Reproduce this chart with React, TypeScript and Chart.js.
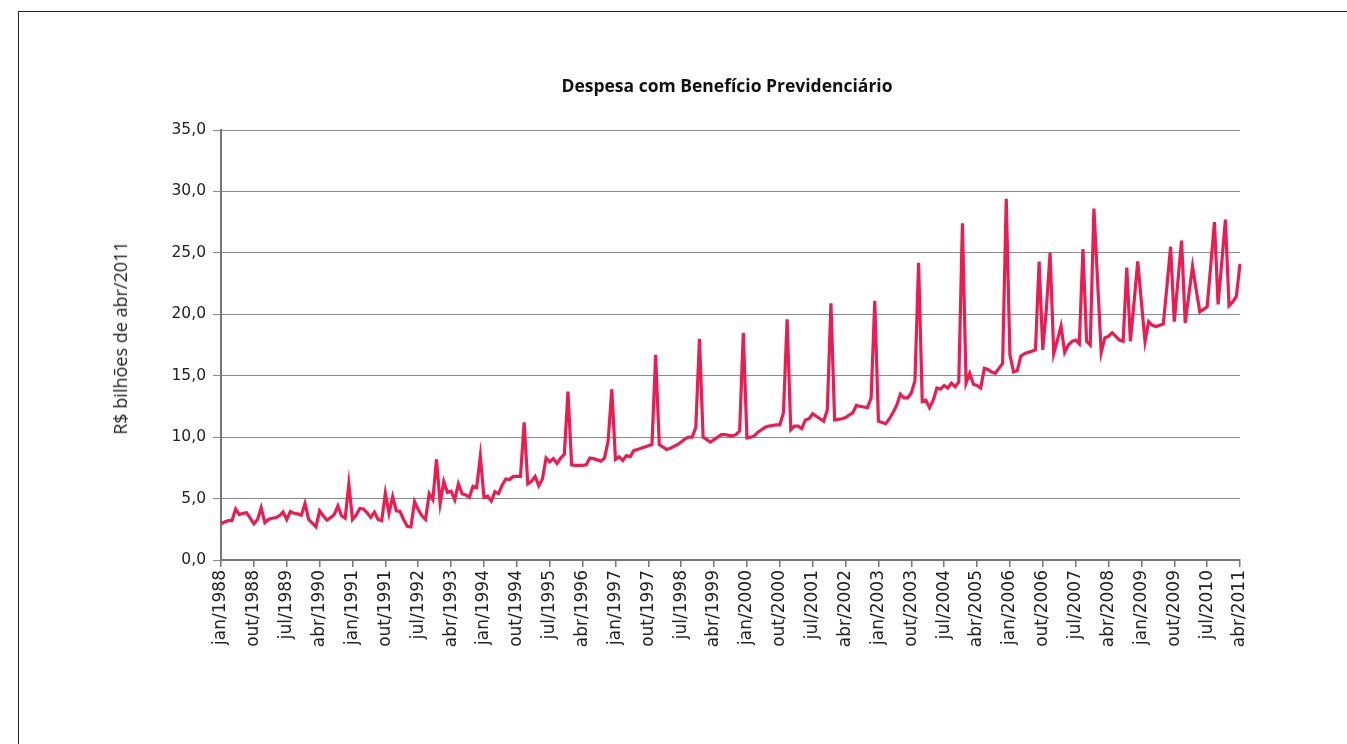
import React, { useEffect, useRef } from "react";
import { Chart, registerables } from "chart.js";

Chart.register(...registerables);

const MONTHS = ["jan", "fev", "mar", "abr", "mai", "jun", "jul", "ago", "set", "out", "nov", "dez"];
const YEARS = [1988, 1989, 1990, 1991, 1992, 1993, 1994, 1995, 1996, 1997, 1998, 1999, 2000, 2001, 2002, 2003, 2004, 2005, 2006, 2007, 2008, 2009, 2010, 2011];

// R$ bilhões de abr/2011, monthly values per year
const v1988 = [2.95, 3.1, 3.2, 3.2, 4.15, 3.7, 3.8, 3.85, 3.4, 2.95, 3.3, 4.25];
const v1989 = [3.05, 3.3, 3.4, 3.45, 3.6, 3.9, 3.3, 3.95, 3.8, 3.75, 3.65, 4.6];
const v1990 = [3.3, 3.0, 2.7, 4.0, 3.6, 3.25, 3.45, 3.7, 4.4, 3.6, 3.4, 6.2];
const v1991 = [3.3, 3.66, 4.2, 4.15, 3.85, 3.47, 3.9, 3.3, 3.2, 5.45, 3.8, 5.15];
const v1992 = [4.0, 3.95, 3.3, 2.75, 2.7, 4.75, 4.1, 3.6, 3.3, 5.4, 4.9, 8.2];
const v1993 = [4.6, 6.4, 5.5, 5.6, 4.9, 6.2, 5.4, 5.3, 5.1, 6.0, 5.9, 8.45];
const v1994 = [5.1, 5.2, 4.8, 5.55, 5.4, 6.1, 6.6, 6.55, 6.8, 6.8, 6.8, 11.2];
const v1995 = [6.2, 6.4, 6.8, 6.05, 6.6, 8.3, 8.0, 8.25, 7.85, 8.3, 8.6, 13.7];
const v1996 = [7.75, 7.7, 7.7, 7.7, 7.75, 8.3, 8.25, 8.15, 8.05, 8.3, 9.7, 13.9];
const v1997 = [8.2, 8.4, 8.1, 8.5, 8.4, 8.9, 9.0, 9.1, 9.2, 9.3, 9.4, 16.7];
const v1998 = [9.4, 9.2, 9.0, 9.1, 9.25, 9.4, 9.6, 9.85, 10.0, 10.0, 10.8, 18.0];
const v1999 = [10.0, 9.8, 9.6, 9.8, 10.0, 10.2, 10.2, 10.15, 10.1, 10.2, 10.5, 18.5];
const v2000 = [9.95, 10.0, 10.1, 10.4, 10.6, 10.8, 10.9, 10.95, 11.0, 11.0, 12.0, 19.6];
const v2001 = [10.6, 10.9, 10.9, 10.7, 11.4, 11.5, 11.9, 11.7, 11.5, 11.3, 12.2, 20.9];
const v2002 = [11.4, 11.45, 11.5, 11.6, 11.8, 12.0, 12.6, 12.5, 12.45, 12.4, 13.2, 21.1];
const v2003 = [11.3, 11.2, 11.1, 11.5, 12.0, 12.6, 13.5, 13.2, 13.2, 13.6, 14.6, 24.2];
const v2004 = [12.9, 13.0, 12.4, 13.0, 14.0, 13.9, 14.2, 14.0, 14.4, 14.1, 14.5, 27.4];
const v2005 = [14.4, 15.2, 14.3, 14.2, 14.0, 15.6, 15.5, 15.3, 15.2, 15.6, 16.0, 29.4];
const v2006 = [16.7, 15.3, 15.4, 16.6, 16.8, 16.9, 17.0, 17.1, 24.3, 17.1, 20.5, 25.0];
const v2007 = [16.8, 17.9, 19.05, 16.9, 17.5, 17.8, 17.9, 17.6, 25.3, 17.8, 17.5, 28.6];
const v2008 = [22.7, 16.9, 18.1, 18.2, 18.5, 18.2, 17.9, 17.8, 23.8, 17.8, 21.0, 24.3];
const v2009 = [21.0, 17.8, 19.4, 19.1, 19.0, 19.1, 19.2, 22.3, 25.5, 19.4, 22.7, 26.0];
const v2010 = [19.3, 21.6, 23.9, 22.0, 20.2, 20.4, 20.6, 24.0, 27.5, 20.8, 24.2, 27.7];
const v2011 = [20.7, 21.0, 21.45, 24.1];

const VALUES = [
  ...v1988, ...v1989, ...v1990, ...v1991, ...v1992, ...v1993, ...v1994, ...v1995,
  ...v1996, ...v1997, ...v1998, ...v1999, ...v2000, ...v2001, ...v2002, ...v2003,
  ...v2004, ...v2005, ...v2006, ...v2007, ...v2008, ...v2009, ...v2010, ...v2011,
];

const CATEGORIES = YEARS.flatMap((y) => MONTHS.map((m) => `${m}/${y}`)).slice(0, VALUES.length);

const TICK_LABELS = [
  "jan/1988", "out/1988", "jul/1989", "abr/1990", "jan/1991", "out/1991", "jul/1992", "abr/1993",
  "jan/1994", "out/1994", "jul/1995", "abr/1996", "jan/1997", "out/1997", "jul/1998", "abr/1999",
  "jan/2000", "out/2000", "jul/2001", "abr/2002", "jan/2003", "out/2003", "jul/2004", "abr/2005",
  "jan/2006", "out/2006", "jul/2007", "abr/2008", "jan/2009", "out/2009", "jul/2010", "abr/2011",
];

const TITLE = "Despesa com Benefício Previdenciário";
const Y_TITLE = "R$ bilhões de abr/2011";

export default function App() {
  const ref = useRef<HTMLCanvasElement | null>(null);

  useEffect(() => {
    if (!ref.current) return;
    const TICK_FONT = "'DejaVu Sans', 'Open Sans', sans-serif";
    const chart = new Chart(ref.current, {
      type: "line",
      data: {
        labels: CATEGORIES,
        datasets: [
          {
            data: VALUES,
            borderColor: "#EC1C52",
            backgroundColor: "#EC1C52",
            borderWidth: 3.2,
            pointRadius: 0,
            tension: 0,
            fill: false,
          },
        ],
      },
      options: {
        animation: false,
        responsive: false,
        maintainAspectRatio: false,
        layout: { padding: { left: 0, right: 107, top: 130, bottom: 0 } },
        plugins: {
          legend: { display: false },
          tooltip: { enabled: false },
          title: { display: false },
        },
        scales: {
          x: {
            type: "category",
            grid: {
              display: true,
              drawOnChartArea: false,
              drawTicks: true,
              tickLength: 7,
              color: "#777",
              lineWidth: 1.5,
            },
            border: { display: true, color: "#777", width: 2 },
            ticks: {
              autoSkip: false,
              minRotation: 90,
              maxRotation: 90,
              padding: 3,
              color: "#222",
              font: { family: TICK_FONT, size: 17 },
              callback: (_v: any, i: number) =>
                TICK_LABELS.includes(CATEGORIES[i]) ? CATEGORIES[i] : null,
            },
            afterFit: (s: any) => {
              s.height = 184;
            },
          },
          y: {
            min: 0,
            max: 35,
            ticks: {
              stepSize: 5,
              padding: 7,
              color: "#222",
              font: { family: TICK_FONT, size: 15.5 },
              callback: (v: any) => Number(v).toFixed(1).replace(".", ","),
            },
            grid: { color: "#8a8a8a", lineWidth: 1, tickLength: 8 },
            border: { display: true, color: "#777", width: 2 },
            title: { display: false },
            afterFit: (s: any) => {
              s.width = 221;
            },
          },
        },
      },
    });
    return () => chart.destroy();
  }, []);

  return (
    <div style={{ position: "fixed", left: 0, top: 0, width: 1347, height: 744, background: "#fff" }}>
      <div
        style={{
          position: "absolute",
          left: 18,
          top: 11,
          right: 0,
          bottom: -10,
          borderTop: "1px solid #222",
          borderLeft: "1px solid #222",
        }}
      />
      <canvas
        ref={ref}
        width={1347}
        height={744}
        style={{ position: "absolute", left: 0, top: 0, width: 1347, height: 744 }}
      />
      <div
        style={{
          position: "absolute",
          left: 427,
          width: 600,
          top: 74,
          lineHeight: "22px",
          textAlign: "center",
          fontFamily: "'Open Sans', sans-serif",
          fontWeight: 700,
          fontSize: 17.5,
          color: "#111",
          whiteSpace: "nowrap",
        }}
      >
        {TITLE}
      </div>
      <div
        style={{
          position: "absolute",
          left: 120,
          top: 338,
          transform: "translate(-50%, -50%) rotate(-90deg)",
          fontFamily: "'Open Sans', sans-serif",
          fontSize: 18,
          lineHeight: "22px",
          color: "#222",
          whiteSpace: "nowrap",
        }}
      >
        {Y_TITLE}
      </div>
    </div>
  );
}
